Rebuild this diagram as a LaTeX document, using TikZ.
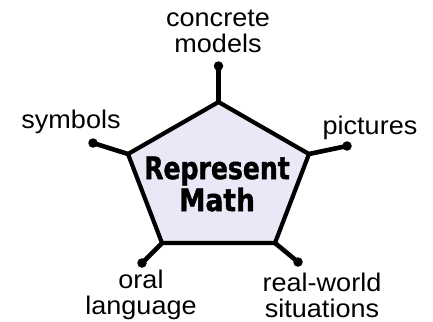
\documentclass[tikz,border=0pt]{standalone}
\usepackage{fontspec}
\usepackage{graphicx}
\setmainfont[FakeStretch=1.06]{Liberation Sans}
\newfontfamily\titlefont[FakeBold=1.3]{DejaVu Sans Condensed}
\definecolor{penfill}{RGB}{232,232,246}
\begin{document}
\begin{tikzpicture}[x=1pt,y=-1pt,
  edge/.style={line width=4.2pt,line join=miter},
  spoke/.style={line width=4.6pt},
  dotend/.style={circle,fill=black,inner sep=0pt,minimum size=9.5pt},
  lbl/.style={font=\fontsize{25.5}{26}\selectfont,inner sep=0pt,align=center},
  title/.style={font=\titlefont\bfseries\fontsize{31}{32}\selectfont,inner sep=0pt,align=center}
]
\useasboundingbox (0,0) rectangle (433,321);
% pentagon vertices
\coordinate (vT) at (218.5,102);
\coordinate (vR) at (309,154);
\coordinate (vBR) at (275,243);
\coordinate (vBL) at (162,243);
\coordinate (vL) at (128,154);
% spokes
\draw[spoke] (vT) -- (218.5,66) node[dotend] (dT) {};
\draw[spoke] (vR) -- (347,146) node[dotend] (dR) {};
\draw[spoke] (vBR) -- (298,262) node[dotend] (dBR) {};
\draw[spoke] (vBL) -- (142,263) node[dotend] (dBL) {};
\draw[spoke] (vL) -- (93,143) node[dotend] (dL) {};
% pentagon
\draw[edge,fill=penfill] (vT) -- (vR) -- (vBR) -- (vBL) -- (vL) -- cycle;
% title
\node[title] (t) at (217,184) {\scalebox{0.9}[1]{Represent}\\\scalebox{0.95}[1]{Math}};
% labels
\node[lbl] (cm) at (218,31) {concrete\\models};
\node[lbl] (sy) at (71,122) {symbols};
\node[lbl] (pi) at (370,128) {pictures};
\node[lbl] (ol) at (141,295) {oral\hspace{20pt}\\language};
\node[lbl] (rw) at (322,295) {real-world\\situations};
\end{tikzpicture}
\end{document}
